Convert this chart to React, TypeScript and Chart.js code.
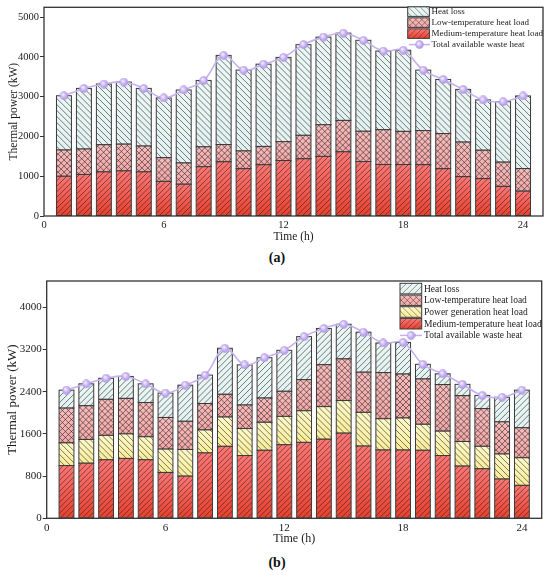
import React, { useEffect, useRef } from "react";
import { Chart, registerables } from "chart.js";

Chart.register(...registerables);

// ---------------- data ----------------
const hours = [1, 2, 3, 4, 5, 6, 7, 8, 9, 10, 11, 12, 13, 14, 15, 16, 17, 18, 19, 20, 21, 22, 23, 24];

const mediumTempLoad = [1000, 1045, 1110, 1135, 1110, 870, 800, 1240, 1365, 1190, 1290, 1395, 1440, 1500, 1615, 1370, 1295, 1295, 1290, 1190, 990, 940, 745, 625];
const lowTempLoad = [660, 640, 683, 673, 650, 600, 535, 500, 432, 447, 460, 476, 590, 795, 790, 762, 876, 834, 860, 884, 870, 715, 610, 570];

// panel (a)
const heatLossA = [1365, 1525, 1527, 1562, 1450, 1500, 1835, 1670, 2243, 2033, 2070, 2119, 2280, 2205, 2195, 2288, 1979, 2041, 1520, 1361, 1325, 1265, 1520, 1825];
const totalWasteHeatA = [3025, 3210, 3320, 3370, 3210, 2970, 3170, 3410, 4040, 3670, 3820, 3990, 4310, 4500, 4600, 4420, 4150, 4170, 3670, 3435, 3185, 2920, 2875, 3020];

// panel (b)
const powerGenLoad = [430, 450, 463, 466, 436, 442, 505, 436, 555, 512, 531, 538, 599, 618, 618, 639, 593, 607, 493, 463, 466, 425, 474, 523];
const heatLossB = [340, 415, 399, 416, 354, 463, 685, 539, 873, 761, 764, 776, 816, 687, 657, 759, 561, 599, 277, 203, 214, 250, 466, 712];
const totalWasteHeatB = [2430, 2550, 2655, 2690, 2550, 2375, 2525, 2715, 3225, 2910, 3045, 3185, 3445, 3600, 3680, 3530, 3325, 3335, 2920, 2740, 2540, 2330, 2295, 2430];

// tick labels
const xTicks = [0, 6, 12, 18, 24];
const yTicksA = [0, 1000, 2000, 3000, 4000, 5000];
const yTicksB = [0, 800, 1600, 2400, 3200, 4000];

const SERIF = "'Liberation Serif', 'Times New Roman', serif";
const TEXT = "#1a1a1a";

// ---------------- looks ----------------
type Look = { top: string; bottom: string; hatch: "fwd" | "back" | "cross"; spacing: number };

const LOOK: Record<string, Look> = {
  lossA: { top: "#ebf7f5", bottom: "#e2f2f0", hatch: "back", spacing: 6 },
  lossB: { top: "#ebf7f5", bottom: "#e2f2f0", hatch: "fwd", spacing: 6 },
  low: { top: "#f9bcbc", bottom: "#f3a7a7", hatch: "cross", spacing: 6 },
  power: { top: "#fdf9c8", bottom: "#f8ec98", hatch: "back", spacing: 6 },
  medium: { top: "#ff7674", bottom: "#e9412f", hatch: "fwd", spacing: 5.5 },
};

function drawHatchRect(ctx: CanvasRenderingContext2D, l: number, t: number, r: number, b: number, look: Look, hatchWidth = 0.65) {
  if (b - t < 0.5 || r - l < 0.5) return;
  ctx.save();
  ctx.beginPath();
  ctx.rect(l, t, r - l, b - t);
  ctx.clip();
  const g = ctx.createLinearGradient(0, t, 0, b);
  g.addColorStop(0, look.top);
  g.addColorStop(1, look.bottom);
  ctx.fillStyle = g;
  ctx.fillRect(l, t, r - l, b - t);
  ctx.strokeStyle = "rgba(35,35,35,0.9)";
  ctx.lineWidth = hatchWidth;
  const h = b - t;
  const s = look.spacing;
  const start = Math.floor((l - h) / s) * s;
  ctx.beginPath();
  if (look.hatch === "fwd" || look.hatch === "cross") {
    for (let c = start; c <= r + s; c += s) {
      ctx.moveTo(c, b);
      ctx.lineTo(c + h, t);
    }
  }
  if (look.hatch === "back" || look.hatch === "cross") {
    for (let c = start; c <= r + s; c += s) {
      ctx.moveTo(c, t);
      ctx.lineTo(c + h, b);
    }
  }
  ctx.stroke();
  ctx.restore();
  ctx.save();
  ctx.strokeStyle = "#3a3a3a";
  ctx.lineWidth = 1;
  ctx.strokeRect(l, t, r - l, b - t);
  ctx.restore();
}

let sphereCache: HTMLCanvasElement | null = null;
function sphere(): HTMLCanvasElement {
  if (sphereCache) return sphereCache;
  const c = document.createElement("canvas");
  c.width = 9;
  c.height = 9;
  const x = c.getContext("2d")!;
  const g = x.createRadialGradient(3.3, 3.2, 0.4, 4.5, 4.5, 4.5);
  g.addColorStop(0, "#f4effd");
  g.addColorStop(0.55, "#c7b1f1");
  g.addColorStop(1, "#a78ce0");
  x.fillStyle = g;
  x.beginPath();
  x.arc(4.5, 4.5, 4.2, 0, Math.PI * 2);
  x.fill();
  sphereCache = c;
  return c;
}

// ---------------- plugins ----------------
const hatchBarsPlugin = {
  id: "hatchBars",
  afterDatasetDraw(chart: any, args: any) {
    const ds = chart.data.datasets[args.index];
    if (!ds.look) return;
    const ctx = chart.ctx as CanvasRenderingContext2D;
    const area = chart.chartArea;
    ctx.save();
    ctx.beginPath();
    ctx.rect(area.left, area.top, area.right - area.left, area.bottom - area.top);
    ctx.clip();
    for (const el of args.meta.data) {
      const p = el.getProps(["x", "y", "base", "width"], true);
      const l = p.x - p.width / 2;
      const r = p.x + p.width / 2;
      const t = Math.min(p.y, p.base);
      const b = Math.max(p.y, p.base);
      drawHatchRect(ctx, l, t, r, b, ds.look);
    }
    ctx.restore();
  },
};

const framePlugin = {
  id: "frame",
  afterDraw(chart: any) {
    const { ctx, chartArea: a } = chart;
    ctx.save();
    ctx.strokeStyle = "#333";
    ctx.lineWidth = 1.3;
    ctx.strokeRect(a.left, a.top, a.right - a.left, a.bottom - a.top);
    ctx.restore();
  },
};

const legendBoxPlugin = {
  id: "legendBox",
  afterDraw(chart: any, _args: any, opts: any) {
    const ctx = chart.ctx as CanvasRenderingContext2D;
    const dss = chart.data.datasets;
    const bars = dss.filter((d: any) => d.look).slice().reverse();
    const line = dss.find((d: any) => d.type === "line");
    ctx.save();
    ctx.font = `${opts.fontSize}px ${SERIF}`;
    ctx.fillStyle = TEXT;
    ctx.textBaseline = "middle";
    ctx.textAlign = "left";
    bars.forEach((d: any, i: number) => {
      const t = opts.rowTop + i * opts.pitch;
      drawHatchRect(ctx, opts.swatchX, t, opts.swatchX + opts.swatchW, t + opts.swatchH, d.look, 0.5);
      ctx.fillStyle = TEXT;
      ctx.fillText(d.label, opts.textX, t + opts.swatchH / 2 + 0.5);
    });
    if (line) {
      const cy = opts.rowTop + bars.length * opts.pitch + opts.swatchH / 2;
      ctx.strokeStyle = "#c6b1f0";
      ctx.lineWidth = 1.5;
      ctx.beginPath();
      ctx.moveTo(opts.lineX0, cy);
      ctx.lineTo(opts.lineX1, cy);
      ctx.stroke();
      const s = sphere();
      ctx.drawImage(s, opts.dotX - s.width / 2, cy - s.height / 2);
      ctx.fillStyle = TEXT;
      ctx.fillText(line.label, opts.textX, cy + 0.5);
    }
    ctx.restore();
  },
};

// ---------------- config ----------------
type Spec = {
  top: number;
  height: number;
  padTop: number;
  padRight: number;
  yWidth: number;
  xHeight: number;
  yMax: number;
  yTicks: number[];
  tickSize: number;
  yTitleSize: number;
  xTitleSize: number;
  yTitlePad: number;
  xTitlePad: number;
  legend: any;
  bars: { label: string; data: number[]; look: Look }[];
  total: number[];
};

function buildConfig(spec: Spec): any {
  const datasets: any[] = spec.bars.map((b) => ({
    type: "bar",
    label: b.label,
    data: hours.map((h, i) => ({ x: h, y: b.data[i] })),
    look: b.look,
    backgroundColor: "rgba(0,0,0,0)",
    borderWidth: 0,
    barPercentage: 0.75,
    categoryPercentage: 1,
    order: 1,
  }));
  datasets.push({
    type: "line",
    label: "Total available waste heat",
    data: hours.map((h, i) => ({ x: h, y: spec.total[i] })),
    stack: "total",
    borderColor: "#c6b1f0",
    borderWidth: 1.6,
    tension: 0.4,
    pointStyle: sphere(),
    pointRadius: 4.5,
    order: 0,
  });
  return {
    data: { datasets },
    options: {
      animation: false,
      responsive: false,
      maintainAspectRatio: false,
      layout: { padding: { top: spec.padTop, right: spec.padRight, left: 0, bottom: 0 } },
      plugins: {
        legend: { display: false },
        tooltip: { enabled: false },
        legendBox: spec.legend,
      },
      scales: {
        x: {
          type: "linear",
          min: 0,
          max: 25,
          stacked: true,
          offset: false,
          grid: { display: false, drawTicks: false },
          border: { display: false },
          ticks: {
            padding: 3,
            color: TEXT,
            autoSkip: false,
            font: { family: SERIF, size: spec.tickSize },
            maxRotation: 0,
            callback: (v: any) => String(v),
          },
          afterBuildTicks: (s: any) => {
            s.ticks = xTicks.map((v) => ({ value: v }));
          },
          afterFit: (s: any) => {
            s.height = spec.xHeight;
          },
          title: {
            display: true,
            text: "Time (h)",
            color: TEXT,
            font: { family: SERIF, size: spec.xTitleSize },
            padding: { top: 0, bottom: spec.xTitlePad },
          },
        },
        y: {
          type: "linear",
          min: 0,
          max: spec.yMax,
          stacked: true,
          grid: { display: true, drawOnChartArea: false, drawTicks: true, tickLength: 4, tickColor: "#333", tickWidth: 1 },
          border: { display: false },
          ticks: {
            padding: 1,
            color: TEXT,
            autoSkip: false,
            font: { family: SERIF, size: spec.tickSize },
            callback: (v: any) => String(v),
          },
          afterBuildTicks: (s: any) => {
            s.ticks = spec.yTicks.map((v) => ({ value: v }));
          },
          afterFit: (s: any) => {
            s.width = spec.yWidth;
          },
          title: {
            display: true,
            text: "Thermal power (kW)",
            color: TEXT,
            font: { family: SERIF, size: spec.yTitleSize },
            padding: { top: spec.yTitlePad, bottom: 0 },
          },
        },
      },
    },
    plugins: [hatchBarsPlugin, framePlugin, legendBoxPlugin],
  };
}

const specA: Spec = {
  top: 0,
  height: 245,
  padTop: 5,
  padRight: 7,
  yWidth: 44,
  xHeight: 29,
  yMax: 5250,
  yTicks: yTicksA,
  tickSize: 10.5,
  yTitleSize: 11.5,
  xTitleSize: 11.5,
  yTitlePad: 7,
  xTitlePad: 1,
  legend: { fontSize: 9, swatchX: 407.7, swatchW: 21.7, swatchH: 9.6, rowTop: 6.8, pitch: 11, textX: 431.5, lineX0: 409, lineX1: 430, dotX: 419.5 },
  bars: [
    { label: "Medium-temperature heat load", data: mediumTempLoad, look: LOOK.medium },
    { label: "Low-temperature heat load", data: lowTempLoad, look: LOOK.low },
    { label: "Heat loss", data: heatLossA, look: LOOK.lossA },
  ],
  total: totalWasteHeatA,
};

const specB: Spec = {
  top: 270,
  height: 276,
  padTop: 11,
  padRight: 8.3,
  yWidth: 46.7,
  xHeight: 27.7,
  yMax: 4500,
  yTicks: yTicksB,
  tickSize: 11,
  yTitleSize: 13,
  xTitleSize: 12,
  yTitlePad: 5,
  xTitlePad: 0,
  legend: { fontSize: 9.5, swatchX: 400, swatchW: 21.7, swatchH: 10.6, rowTop: 13.3, pitch: 11.7, textX: 424, lineX0: 400, lineX1: 422, dotX: 411 },
  bars: [
    { label: "Medium-temperature heat load", data: mediumTempLoad, look: LOOK.medium },
    { label: "Power generation heat load", data: powerGenLoad, look: LOOK.power },
    { label: "Low-temperature heat load", data: lowTempLoad, look: LOOK.low },
    { label: "Heat loss", data: heatLossB, look: LOOK.lossB },
  ],
  total: totalWasteHeatB,
};

function Panel({ spec }: { spec: Spec }) {
  const ref = useRef<HTMLCanvasElement>(null);
  useEffect(() => {
    const chart = new Chart(ref.current as HTMLCanvasElement, buildConfig(spec));
    return () => chart.destroy();
  }, [spec]);
  return (
    <canvas
      ref={ref}
      width={550}
      height={spec.height}
      style={{ position: "absolute", left: 0, top: spec.top, width: 550, height: spec.height }}
    />
  );
}

const capStyle: React.CSSProperties = {
  position: "absolute",
  left: 0,
  width: 554,
  textAlign: "center",
  fontFamily: SERIF,
  fontWeight: "bold",
  fontSize: 14,
  lineHeight: "16px",
  color: "#111",
};

export default function App() {
  return (
    <div style={{ position: "absolute", left: 0, top: 0, width: 550, height: 575, background: "#fff", overflow: "hidden" }}>
      <Panel spec={specA} />
      <div style={{ ...capStyle, top: 250 }}>(a)</div>
      <Panel spec={specB} />
      <div style={{ ...capStyle, top: 555 }}>(b)</div>
    </div>
  );
}
